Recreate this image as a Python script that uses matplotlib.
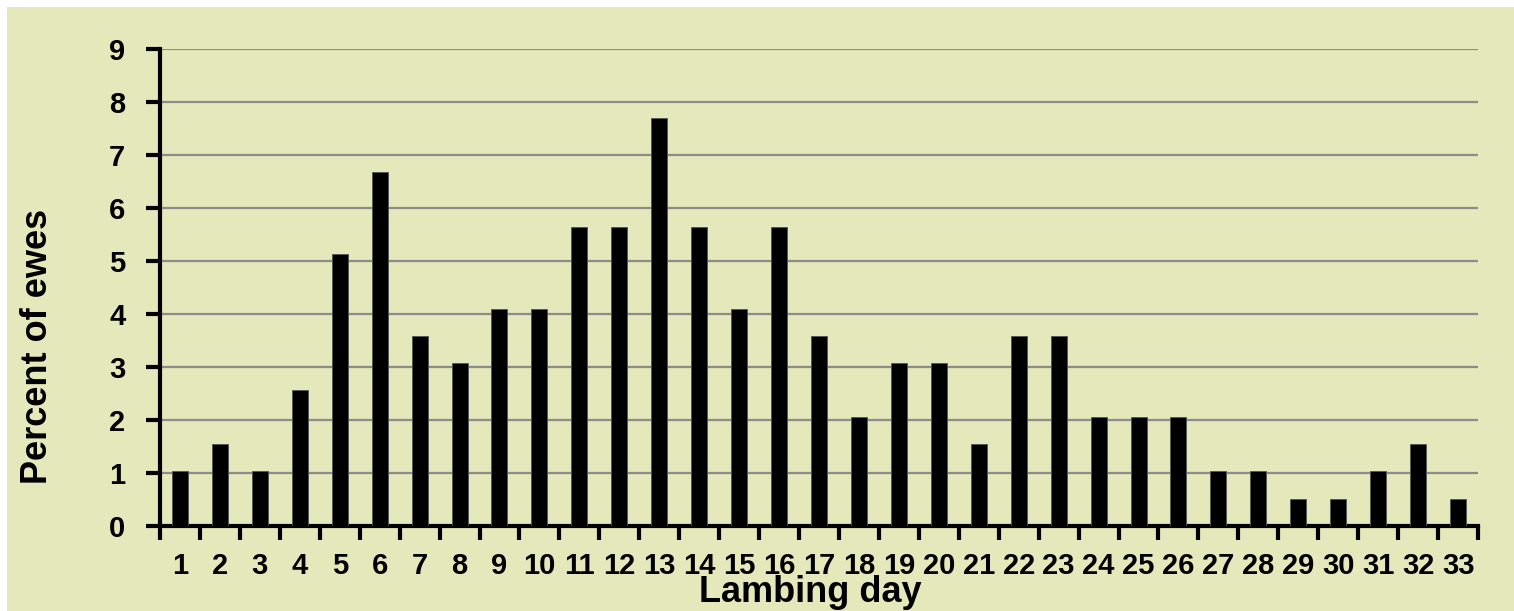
import matplotlib
matplotlib.use("Agg")
import matplotlib.pyplot as plt
from matplotlib.patches import Rectangle

# percent of ewes lambing on each day of the season
days = list(range(1, 34))
pct_ewes = [1.03, 1.54, 1.03, 2.56, 5.13, 6.67, 3.59, 3.08, 4.10, 4.10,
            5.64, 5.64, 7.69, 5.64, 4.10, 5.64, 3.59, 2.05, 3.08, 3.08,
            1.54, 3.59, 3.59, 2.05, 2.05, 2.05, 1.03, 1.03, 0.51, 0.51,
            1.03, 1.54, 0.51]
y_ticks = list(range(0, 10))

BG = "#e4e8ba"
W, H = 1514, 611

plt.rcParams["font.family"] = ["Liberation Sans", "DejaVu Sans"]
plt.rcParams["font.weight"] = "bold"

fig = plt.figure(figsize=(W / 100, H / 100), dpi=100, facecolor="white")
# panel background, leaving a thin white margin top and left
fig.patches.append(Rectangle((7 / W, 0), 1 - 7 / W, 1 - 7 / H,
                             transform=fig.transFigure, facecolor=BG,
                             edgecolor="none", zorder=-10))

ax = fig.add_axes([160 / W, 1 - 526 / H, 1318 / W, 477 / H])
ax.set_facecolor("none")

ax.bar(days, pct_ewes, width=0.4, color="black", edgecolor="#555555",
       linewidth=0.6, zorder=3)

ax.set_xlim(0.5, 33.5)
ax.set_ylim(0, 9)
ax.set_yticks(y_ticks)
ax.set_yticklabels([str(t) for t in y_ticks], fontsize=21, fontweight="bold")
ax.yaxis.grid(True, color="#8c8c8c", linewidth=1.6, zorder=0)
ax.set_axisbelow(True)

# category labels at centres, tick marks on the boundaries between days
ax.set_xticks(days)
ax.set_xticklabels([str(d) for d in days], fontsize=21, fontweight="bold")
ax.tick_params(axis="x", which="major", length=0, pad=19)
ax.set_xticks([d + 0.5 for d in [0] + days], minor=True)
ax.tick_params(axis="x", which="minor", length=10, width=3, direction="out")
ax.tick_params(axis="y", length=10, width=3, direction="out", pad=15)

for side in ("top", "right"):
    ax.spines[side].set_visible(False)
for side in ("left", "bottom"):
    ax.spines[side].set_linewidth(3)

fig.text(38 / W, 1 - 346 / H, "Percent of ewes", rotation=90, ha="center",
         va="center", fontsize=26, fontweight="bold")
fig.text(810 / W, 1 - 602 / H, "Lambing day", ha="center", va="baseline",
         fontsize=26, fontweight="bold")

fig.savefig("out.png", dpi=100, facecolor="white")
